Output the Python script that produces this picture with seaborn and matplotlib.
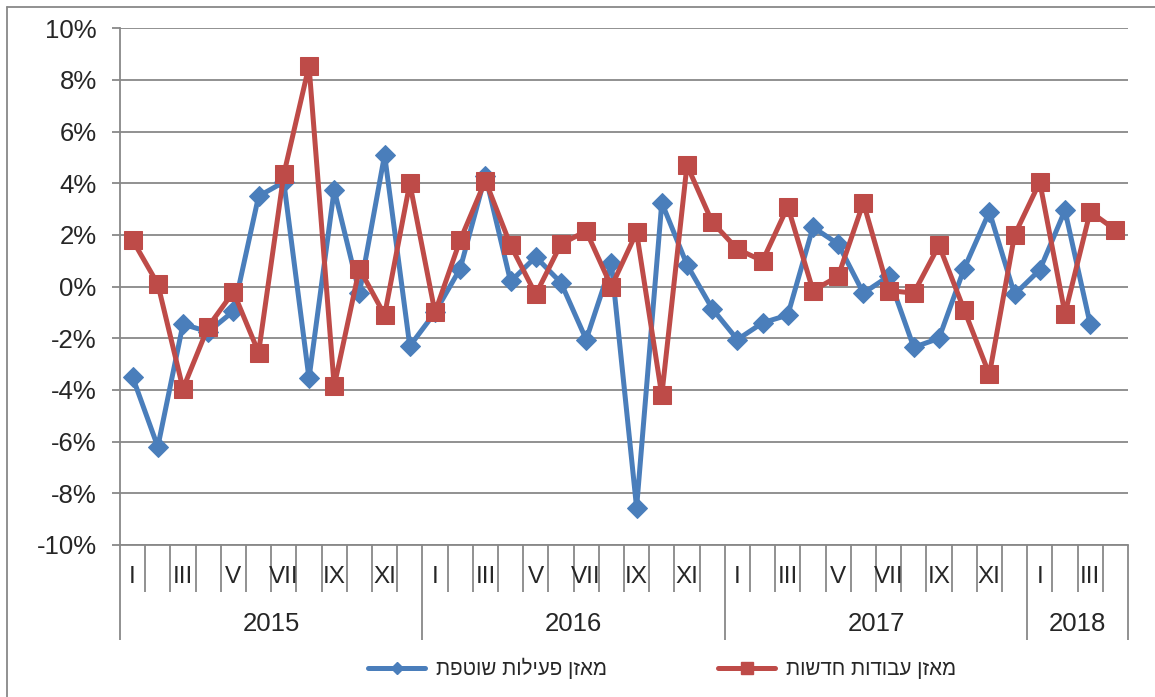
import numpy as np
import pandas as pd
import seaborn as sns
import matplotlib.pyplot as plt
from matplotlib.lines import Line2D

# categories
years = ['2015', '2016', '2017', '2018']
months_per_year = [12, 12, 12, 4]
roman = ['I', 'II', 'III', 'IV', 'V', 'VI', 'VII', 'VIII', 'IX', 'X', 'XI', 'XII']

# series values (%), read monthly from Jan 2015
current_activity = [-3.5, -6.2, -1.45, -1.75, -0.95, 3.5, 4.05, -3.55, 3.75, -0.25, 5.1, -2.3,
                    -1.0, 0.7, 4.3, 0.2, 1.15, 0.15, -2.05, 0.9, -8.55, 3.25, 0.85, -0.85,
                    -2.05, -1.4, -1.1, 2.3, 1.65, -0.25, 0.4, -2.35, -2.0, 0.7, 2.9, -0.3,
                    0.65, 2.95, -1.45]
new_work = [1.8, 0.1, -3.95, -1.55, -0.2, -2.55, 4.35, 8.55, -3.85, 0.7, -1.1, 4.0,
            -1.0, 1.8, 4.1, 1.6, -0.3, 1.65, 2.15, 0.0, 2.1, -4.2, 4.7, 2.5,
            1.45, 1.0, 3.1, -0.15, 0.4, 3.25, -0.15, -0.25, 1.6, -0.9, -3.4, 2.0,
            4.05, -1.05, 2.9, 2.2]
series_names = ['מאזן פעילות שוטפת', 'מאזן עבודות חדשות']
y_ticks = list(range(-10, 11, 2))

blue = '#4A7EBB'
red = '#BE4B48'
grey = '#888888'

sns.set_style('white')
plt.rcParams['font.family'] = ['Liberation Sans', 'DejaVu Sans']

fig, ax = plt.subplots(figsize=(11.55, 6.97), dpi=100)
fig.subplots_adjust(left=0.1039, right=0.9766, top=0.9594, bottom=0.2181)

sns.lineplot(x=np.arange(len(current_activity)), y=current_activity, ax=ax,
             color=blue, lw=3.6, marker='D', markersize=10,
             markeredgecolor=blue, zorder=3)
sns.lineplot(x=np.arange(len(new_work)), y=new_work, ax=ax,
             color=red, lw=3.6, marker='s', markersize=13.5,
             markeredgecolor=red, zorder=4)

n_months = sum(months_per_year)
ax.set_xlim(-0.5, n_months - 0.5)
ax.set_ylim(y_ticks[0], y_ticks[-1])
ax.set_yticks(y_ticks)
ax.set_yticklabels([f'{v}%' for v in y_ticks], fontsize=18.5)
ax.set_xticks([])
ax.set_xlabel('')
ax.set_ylabel('')
ax.grid(axis='y', color=grey, lw=1.3)
ax.tick_params(axis='y', direction='out', length=5.8, width=1.3, color=grey, pad=11, left=True)
for s in ['top', 'right']:
    ax.spines[s].set_visible(False)
for s in ['left', 'bottom']:
    ax.spines[s].set_color(grey)
    ax.spines[s].set_linewidth(1.3)

# multi-level category axis
tr = ax.get_xaxis_transform()
year_edges = np.cumsum([0] + months_per_year)
for b in range(n_months + 1):
    depth = -0.184 if b in year_edges else -0.091
    ax.vlines(b - 0.5, depth, 0, transform=tr, clip_on=False, color=grey, lw=1.3)

pos = 0
for yr, n in zip(years, months_per_year):
    for m in range(0, n, 2):
        ax.text(pos + m, -0.062, roman[m], transform=tr, ha='center', va='center', fontsize=17.5)
    ax.text(pos + (n - 1) / 2, -0.153, yr, transform=tr, ha='center', va='center', fontsize=18.5)
    pos += n

# legend (Hebrew reversed for visual order)
handles = [Line2D([], [], color=blue, lw=3.6, marker='D', markersize=6, markeredgecolor=blue),
           Line2D([], [], color=red, lw=3.6, marker='s', markersize=8, markeredgecolor=red)]
fig.legend(handles, [n[::-1] for n in series_names], loc='center', ncol=2,
           bbox_to_anchor=(0.573, 0.041), frameon=False, fontsize=14.8,
           handlelength=2.8, handletextpad=0.5, columnspacing=5.4)

# outer chart border
fig.add_artist(Line2D([7 / 1155, 7 / 1155], [0, 1 - 7 / 697], transform=fig.transFigure, color=grey, lw=1.3))
fig.add_artist(Line2D([7 / 1155, 1], [1 - 7 / 697, 1 - 7 / 697], transform=fig.transFigure, color=grey, lw=1.3))

fig.savefig('out.png', dpi=100)
